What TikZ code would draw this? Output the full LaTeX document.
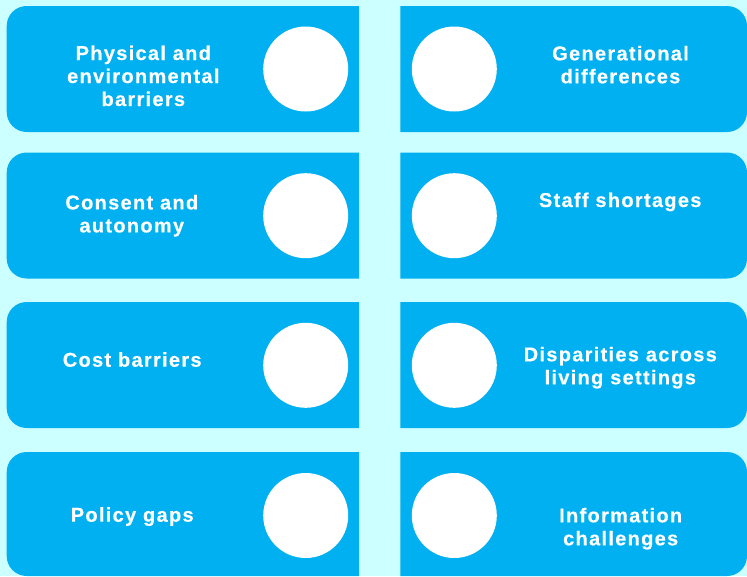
\documentclass[tikz,border=0pt]{standalone}
\usepackage{fontspec}
\newfontfamily\lblfont{Liberation Sans Bold}[LetterSpace=6.5,FakeBold=0.4]
\definecolor{bg}{HTML}{CCFFFF}
\definecolor{boxblue}{HTML}{00B0F0}
\tikzset{
  lbl/.style={text=white, font=\lblfont\fontsize{20}{23}\selectfont, align=center, anchor=base, inner sep=0pt},
  dot/.style={circle, fill=white, minimum size=85pt, inner sep=0pt},
  panel/.style={fill=boxblue, rounded corners=20pt},
}
\begin{document}
\begin{tikzpicture}[x=1pt,y=-1pt]
\fill[bg] (0,0) rectangle (747,576);
\useasboundingbox (0,0) rectangle (747,576);
% panels: left ones rounded on the left, right ones rounded on the right
\foreach \t/\b in {6/132, 152.5/278.5, 302/428, 452/576}{
  \begin{scope}
    \clip (0,\t) rectangle (359,\b);
    \fill[panel] (6.7,\t) rectangle (390,\b);
  \end{scope}
  \begin{scope}
    \clip (400.3,\t) rectangle (760,\b);
    \fill[panel] (370,\t) rectangle (747,\b);
  \end{scope}
}
% circles
\node[dot] (c1) at (305.7,69) {};
\node[dot] (c2) at (305.7,215.7) {};
\node[dot] (c3) at (305.7,365.3) {};
\node[dot] (c4) at (305.7,515.5) {};
\node[dot] (d1) at (454.3,69) {};
\node[dot] (d2) at (454.3,215.7) {};
\node[dot] (d3) at (454.3,365.3) {};
\node[dot] (d4) at (454.3,515.5) {};
% labels (anchor = baseline of the last line)
\node[lbl] (l1) at (143.3,106) {Physical and\\environmental\\barriers};
\node[lbl] (l2) at (131.8,232.4) {Consent and\\autonomy};
\node[lbl] (l3) at (132.2,366.7) {Cost barriers};
\node[lbl] (l4) at (132.2,521.7) {Policy gaps};
\node[lbl] (r1) at (620.5,83.3) {Generational\\differences};
\node[lbl] (r2) at (620.2,207) {Staff shortages};
\node[lbl] (r3) at (620.3,384.3) {Disparities across\\living settings};
\node[lbl] (r4) at (620.7,545.3) {Information\\challenges};
\end{tikzpicture}
\end{document}
